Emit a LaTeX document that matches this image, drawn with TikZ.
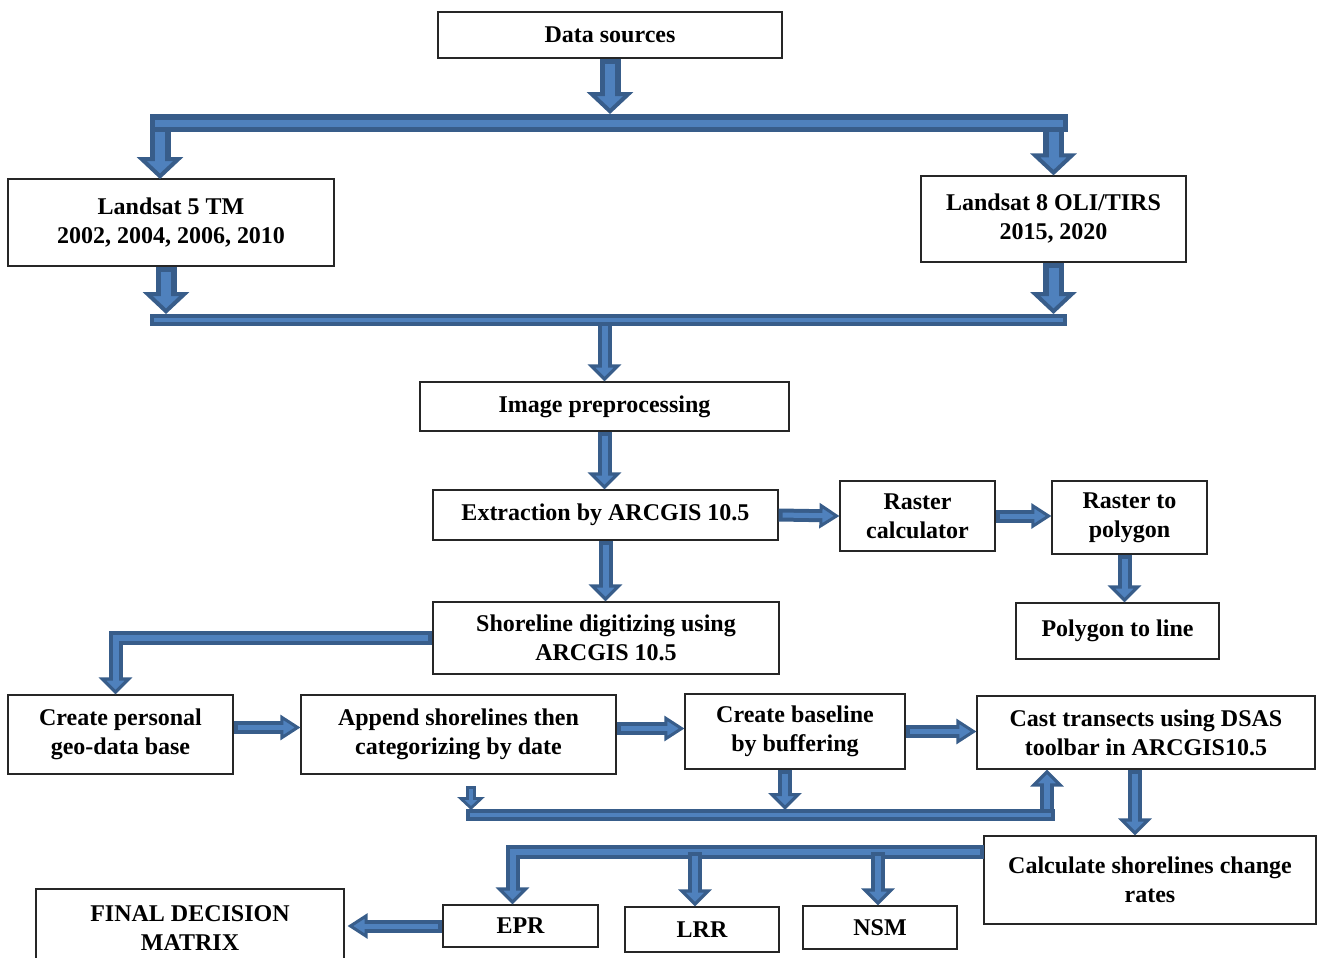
\documentclass[tikz,border=0pt]{standalone}
\usepackage{fontspec}
\setmainfont{Liberation Serif}
\usetikzlibrary{arrows.meta}
\definecolor{midblue}{RGB}{79,129,189}
\definecolor{dkblue}{RGB}{56,93,138}

\begin{document}
\begin{tikzpicture}[x=0.5pt, y=-0.5pt,
  box/.style={draw=black!85, line width=0.6pt, fill=white, inner sep=1pt,
              align=center, font=\fontsize{12}{14.5}\selectfont\bfseries},
  bigarr/.style={draw=dkblue, line width=10.5pt,
                 -{Triangle[width=23pt, length=11pt, line width=2pt, fill=midblue]},
                 postaction={draw=midblue, -, line width=5pt, shorten <=2.5pt, shorten >=7pt}},
  midarr/.style={draw=dkblue, line width=7pt,
                 -{Triangle[width=16.5pt, length=8.5pt, line width=1.6pt, fill=midblue]},
                 postaction={draw=midblue, -, line width=3pt, shorten <=2pt, shorten >=5pt}},
  sidearr/.style={draw=dkblue, line width=6.5pt,
                  -{Triangle[width=12.5pt, length=10pt, line width=1.5pt, fill=midblue]},
                  postaction={draw=midblue, -, line width=2.5pt, shorten <=2pt, shorten >=6pt}},
  smallarr/.style={draw=dkblue, line width=5pt,
                   -{Triangle[width=13.5pt, length=6.5pt, line width=1.4pt, fill=midblue]},
                   postaction={draw=midblue, -, line width=2pt, shorten <=1.5pt, shorten >=4pt}},
  bigbar/.style={draw=dkblue, line width=9pt,
                 postaction={draw=midblue, line width=3.5pt, shorten <=2.5pt, shorten >=2.5pt}},
  bar/.style={draw=dkblue, line width=6pt,
              postaction={draw=midblue, line width=2.2pt, shorten <=2pt, shorten >=2pt}}]
  \useasboundingbox (0,0) rectangle (1319,958);
  % upper part: sources and images
  \node[box, minimum width=172pt, minimum height=23pt] (src) at (610,35) {Data sources};
  \node[box, minimum width=163pt, minimum height=43.5pt] (ls5) at (171,222.5)
    {Landsat 5 TM\\2002, 2004, 2006, 2010};
  \node[box, minimum width=132.5pt, minimum height=43pt] (ls8) at (1053.5,219)
    {Landsat 8 OLI/TIRS\\2015, 2020};
  \node[box, minimum width=184.5pt, minimum height=24.5pt] (imgpre) at (604.5,406.5)
    {Image preprocessing};
  \node[box, minimum width=172.5pt, minimum height=25pt] (extract) at (605.5,515)
    {Extraction by ARCGIS 10.5};
  \node[box, minimum width=77.5pt, minimum height=35pt] (rcalc) at (917.5,516)
    {Raster\\calculator};
  \node[box, minimum width=77.5pt, minimum height=36.5pt] (r2poly) at (1129.5,517.5)
    {Raster to\\polygon};
  \node[box, minimum width=101.5pt, minimum height=28pt] (p2line) at (1117.5,631)
    {Polygon to line};
  \node[box, minimum width=173pt, minimum height=36pt] (digit) at (606,638)
    {Shoreline digitizing using\\ARCGIS 10.5};
  % lower part: DSAS steps
  \node[box, minimum width=112.5pt, minimum height=39.5pt] (gdb) at (120.5,734.5)
    {Create personal\\geo-data base};
  \node[box, minimum width=157.5pt, minimum height=39.5pt] (append) at (458.5,734.5)
    {Append shorelines then\\categorizing by date};
  \node[box, minimum width=110pt, minimum height=37.5pt] (baseline) at (795,731.5)
    {Create baseline\\by buffering};
  \node[box, minimum width=169pt, minimum height=36.5pt] (cast) at (1146,732.5)
    {Cast transects using DSAS\\toolbar in ARCGIS10.5};
  \node[box, minimum width=166pt, minimum height=44pt] (rates) at (1150,880)
    {Calculate shorelines change\\rates};
  \node[box, minimum width=77.5pt, minimum height=21pt] (epr) at (520.5,926) {EPR};
  \node[box, minimum width=77pt, minimum height=22.5pt] (lrr) at (702,929.5) {LRR};
  \node[box, minimum width=77pt, minimum height=21.5pt] (nsm) at (880,927.5) {NSM};
  \node[box, minimum width=154pt, minimum height=39.5pt] (final) at (190,928.5)
    {FINAL DECISION\\MATRIX};
  % bus bars
  \coordinate (b1l) at (150,123);
  \coordinate (b1r) at (1068,123);
  \coordinate (b2l) at (150,320);
  \coordinate (b2r) at (1067,320);
  \coordinate (b3l) at (466,815);
  \coordinate (b3r) at (1055,815);
  \coordinate (s3) at (471,786);
  \coordinate (up) at (1047,815);
  \coordinate (rb) at (984,852);
  % arrows
  \draw[bigarr] (src.south) -- (610,114);
  \draw[bigarr] (160,123) -- (160,179);
  \draw[bigarr] (ls8.south |- b1r) -- (ls8.north);
  \draw[bigarr] ([xshift=-2.5pt]ls5.south) -- ([xshift=-2.5pt]ls5.south |- 0,314);
  \draw[bigarr] (ls8.south) -- (ls8.south |- 0,314);
  \draw[midarr] (imgpre.north |- b2l) -- (imgpre.north);
  \draw[midarr] (imgpre.south) -- (imgpre.south |- extract.north);
  \draw[midarr] (extract.south) -- (extract.south |- digit.north);
  \draw[sidearr] (extract.east) -- (rcalc.west);
  \draw[sidearr] (rcalc.east) -- (rcalc.east -| r2poly.west);
  \draw[midarr] ([xshift=-2.5pt]r2poly.south) -- ([xshift=-2.5pt]r2poly.south |- p2line.north);
  \draw[midarr] (digit.west) -| ([xshift=-2.5pt]gdb.north);
  \draw[sidearr] ([yshift=3.5pt]gdb.east) -- ([yshift=3.5pt]gdb.east -| append.west);
  \draw[sidearr] ([yshift=3pt]append.east) -- ([yshift=3pt]append.east -| baseline.west);
  \draw[sidearr] (baseline.east) -- (baseline.east -| cast.west);
  \draw[smallarr] (s3) -- (s3 |- 0,810);
  \draw[midarr] ([xshift=-5pt]baseline.south) -- ([xshift=-5pt]baseline.south |- 0,810);
  \draw[midarr] (up) -- (up |- cast.south);
  \draw[midarr] ([xshift=-5.5pt]cast.south) -- ([xshift=-5.5pt]cast.south |- rates.north);
  \draw[midarr] (rb) -| ([xshift=-4pt]epr.north);
  \draw[midarr] (rb -| lrr.north) ++(-7,0) -- ([xshift=-3.5pt]lrr.north);
  \draw[midarr] (rb -| nsm.north) ++(-2,0) -- ([xshift=-1pt]nsm.north);
  \draw[sidearr] (epr.west) -- ([xshift=1.5pt]epr.west -| final.east);
  \draw[bigbar] (b1l) -- (b1r);
  \draw[bar] (b2l) -- (b2r);
  \draw[bar] (b3l) -- (b3r);
\end{tikzpicture}
\end{document}
